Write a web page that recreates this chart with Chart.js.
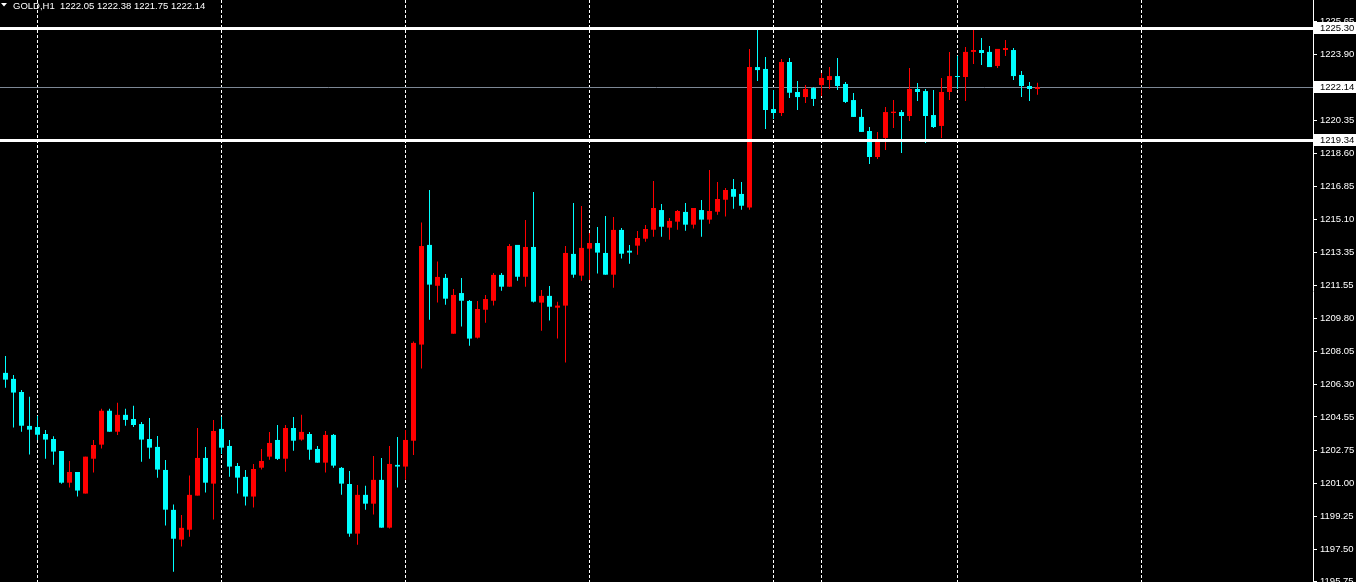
<!DOCTYPE html>
<html lang="en">
<head>
  <meta charset="UTF-8"/>
  <title>GOLD,H1</title>
  <script src="https://cdn.jsdelivr.net/npm/chart.js"></script>
  <style>
    html, body {
      margin: 0;
      padding: 0;
      background: #000;
      overflow: hidden;
    }
    .chart-box {
      position: relative;
      width: 1356px;
      height: 582px;
    }
  </style>
</head>
<body>

<div class="chart-box">
  <canvas id="goldChart"></canvas>
</div>

<script>
  // hourly candles, oldest first (index = bar number)
  const opens = [
    1206.90, 1206.58, 1205.88, 1204.07, 1204.01, 1203.64, 1203.37, 1202.73, 1201.04, 1201.61,
    1200.46, 1202.32, 1203.07, 1204.88, 1203.76, 1204.66, 1204.44, 1204.17, 1203.37, 1202.95,
    1201.72, 1199.59, 1198.00, 1198.53, 1200.35, 1202.36, 1200.99, 1203.91, 1203.00, 1201.93,
    1201.35, 1200.30, 1201.84, 1202.43, 1203.32, 1202.32, 1203.96, 1203.34, 1203.64, 1202.84,
    1202.11, 1203.59, 1201.83, 1200.97, 1198.32, 1200.39, 1199.92, 1201.19, 1198.64, 1201.99,
    1201.90, 1203.28, 1208.41, 1213.73, 1211.55, 1211.97, 1208.99, 1211.16, 1210.74, 1208.78,
    1210.27, 1210.75, 1212.13, 1211.50, 1213.73, 1212.03, 1213.62, 1210.65, 1211.01, 1210.38,
    1210.49, 1213.25, 1212.09, 1213.53, 1213.83, 1213.30, 1212.14, 1214.53, 1213.42, 1213.69,
    1214.06, 1214.54, 1215.59, 1214.65, 1214.97, 1215.49, 1214.81, 1215.59, 1215.08, 1215.50,
    1216.14, 1216.71, 1216.45, 1215.72, 1223.22, 1223.12, 1220.98, 1220.77, 1223.49, 1221.89,
    1221.62, 1222.10, 1222.26, 1222.53, 1222.74, 1222.32, 1221.46, 1220.56, 1219.81, 1218.42,
    1219.44, 1220.77, 1220.82, 1220.61, 1222.05, 1221.94, 1220.66, 1220.08, 1221.89, 1222.74,
    1222.69, 1224.03, 1224.13, 1224.03, 1223.28, 1224.13, 1224.13, 1222.80, 1222.21, 1222.05
  ];
  const highs = [
    1207.80, 1206.79, 1205.99, 1205.62, 1204.60, 1203.85, 1203.52, 1202.73, 1202.20, 1201.61,
    1202.43, 1203.32, 1204.98, 1204.98, 1205.30, 1204.98, 1205.14, 1204.28, 1204.49, 1203.53,
    1202.25, 1199.87, 1199.32, 1201.42, 1203.96, 1202.95, 1204.39, 1204.56, 1203.32, 1202.09,
    1201.72, 1202.04, 1202.84, 1203.75, 1204.12, 1204.12, 1204.55, 1204.66, 1203.75, 1203.00,
    1203.80, 1203.64, 1201.88, 1201.67, 1200.92, 1200.87, 1202.47, 1202.36, 1203.00, 1203.48,
    1203.85, 1208.57, 1214.92, 1216.66, 1212.84, 1212.18, 1211.38, 1211.97, 1210.79, 1210.74,
    1211.06, 1212.23, 1212.23, 1213.78, 1213.73, 1215.06, 1216.55, 1211.33, 1211.54, 1210.70,
    1213.67, 1215.97, 1215.81, 1214.37, 1214.69, 1215.27, 1215.22, 1214.63, 1213.73, 1214.47,
    1214.79, 1217.14, 1215.91, 1215.17, 1215.59, 1215.97, 1215.70, 1216.13, 1217.73, 1217.09,
    1216.77, 1217.25, 1217.09, 1224.19, 1225.24, 1223.76, 1222.00, 1223.65, 1223.71, 1222.48,
    1222.26, 1222.16, 1222.90, 1223.22, 1223.71, 1222.42, 1221.84, 1220.98, 1220.02, 1219.76,
    1221.09, 1221.46, 1220.93, 1223.17, 1222.37, 1222.05, 1222.00, 1222.64, 1224.03, 1223.81,
    1224.29, 1225.25, 1224.77, 1224.35, 1224.19, 1224.67, 1224.24, 1223.01, 1222.42, 1222.38
  ];
  const lows = [
    1206.11, 1203.98, 1203.76, 1202.54, 1203.32, 1202.32, 1202.00, 1200.99, 1200.78, 1200.30,
    1200.46, 1201.58, 1202.86, 1203.76, 1203.59, 1204.08, 1204.01, 1202.16, 1202.32, 1201.31,
    1198.75, 1196.29, 1197.63, 1198.16, 1200.35, 1200.51, 1199.07, 1202.57, 1201.36, 1200.46,
    1199.82, 1199.71, 1201.74, 1202.27, 1202.25, 1201.63, 1202.75, 1203.28, 1202.27, 1202.11,
    1201.58, 1201.84, 1200.40, 1198.16, 1197.73, 1199.60, 1199.34, 1198.64, 1198.59, 1200.78,
    1201.20, 1202.52, 1207.13, 1209.74, 1210.65, 1210.54, 1208.99, 1209.37, 1208.35, 1208.73,
    1209.58, 1210.49, 1211.29, 1211.50, 1211.82, 1211.50, 1210.65, 1209.15, 1209.69, 1208.73,
    1207.45, 1211.98, 1211.82, 1211.86, 1212.20, 1212.14, 1211.45, 1213.00, 1212.73, 1213.21,
    1213.90, 1214.17, 1214.17, 1214.01, 1214.54, 1214.49, 1214.60, 1214.17, 1214.86, 1215.34,
    1215.24, 1215.66, 1215.61, 1215.61, 1222.48, 1219.92, 1220.45, 1220.61, 1221.57, 1220.93,
    1221.30, 1221.14, 1221.68, 1222.05, 1222.00, 1221.30, 1220.56, 1219.76, 1218.05, 1218.32,
    1218.80, 1219.97, 1218.64, 1220.34, 1221.41, 1219.17, 1219.97, 1219.44, 1221.46, 1222.05,
    1221.41, 1223.38, 1223.33, 1223.22, 1223.17, 1223.81, 1222.53, 1221.62, 1221.41, 1221.75
  ];
  const closes = [
    1206.54, 1205.85, 1204.08, 1203.87, 1203.60, 1203.34, 1202.70, 1201.04, 1201.61, 1200.62,
    1202.43, 1203.05, 1204.88, 1203.76, 1204.66, 1204.39, 1204.12, 1203.34, 1202.91, 1201.74,
    1199.60, 1198.05, 1198.63, 1200.39, 1202.36, 1201.04, 1203.80, 1202.91, 1201.90, 1201.31,
    1200.30, 1201.77, 1202.20, 1203.16, 1202.31, 1203.96, 1203.28, 1203.75, 1202.80, 1202.11,
    1203.59, 1201.95, 1200.99, 1198.32, 1200.39, 1199.92, 1201.19, 1198.64, 1202.04, 1201.90,
    1203.32, 1208.50, 1213.67, 1211.61, 1212.02, 1210.86, 1211.06, 1210.75, 1208.73, 1210.31,
    1210.84, 1212.13, 1211.50, 1213.67, 1212.03, 1213.62, 1210.70, 1211.01, 1210.43, 1210.49,
    1213.30, 1212.14, 1213.57, 1213.83, 1213.32, 1212.14, 1214.53, 1213.26, 1213.32, 1214.10,
    1214.58, 1215.70, 1214.70, 1215.01, 1215.54, 1214.81, 1215.70, 1215.08, 1215.54, 1216.18,
    1216.66, 1216.30, 1215.82, 1223.22, 1223.06, 1220.93, 1220.77, 1223.49, 1221.85, 1221.62,
    1222.05, 1221.52, 1222.64, 1222.74, 1222.21, 1221.36, 1220.56, 1219.76, 1218.42, 1219.28,
    1220.82, 1220.84, 1220.61, 1222.05, 1221.89, 1220.61, 1220.02, 1221.89, 1222.74, 1222.69,
    1224.03, 1224.13, 1223.97, 1223.22, 1224.19, 1224.24, 1222.74, 1222.21, 1222.05, 1222.14
  ];

  // price axis labels as printed by the terminal
  const priceTicks = [
    1225.65, 1223.90, 1222.15, 1220.35, 1218.60, 1216.85, 1215.10, 1213.35, 1211.55,
    1209.80, 1208.05, 1206.30, 1204.55, 1202.75, 1201.00, 1199.25, 1197.50, 1195.75
  ];
  const priceMin = 1195.74;
  const priceMax = 1226.80;

  // day separators (bar index), horizontal lines and last bid
  const separators = [4, 27, 50, 73, 96, 102, 119, 142];
  const levels = [1225.30, 1219.34];
  const bid = 1222.14;
  const header = "GOLD,H1  1222.05 1222.38 1221.75 1222.14";

  const BULL = "#ff0000";
  const BEAR = "#00ffff";
  const FONT = "'Liberation Sans', Arial, sans-serif";
  const AXIS_W = 43;
  const BAR_STEP = 8;

  const candleColors = opens.map((o, i) => closes[i] > o ? BULL : BEAR);

  const overlay = {
    id: "overlay",
    beforeDatasetsDraw(chart) {
      const { ctx, chartArea, scales } = chart;
      ctx.save();
      // period separators
      ctx.strokeStyle = "#ffffff";
      ctx.lineWidth = 1;
      ctx.setLineDash([3, 2]);
      separators.forEach(idx => {
        const x = Math.round(scales.x.getPixelForValue(idx) - 0.5) + 0.5;
        ctx.beginPath();
        ctx.moveTo(x, chartArea.top);
        ctx.lineTo(x, chartArea.bottom);
        ctx.stroke();
      });
      ctx.setLineDash([]);
      // bid line
      const yb = Math.round(scales.y.getPixelForValue(bid)) + 0.5;
      ctx.strokeStyle = "#7d8795";
      ctx.beginPath();
      ctx.moveTo(chartArea.left, yb);
      ctx.lineTo(chartArea.right, yb);
      ctx.stroke();
      ctx.restore();
    },
    afterDraw(chart) {
      const { ctx, chartArea, scales } = chart;
      ctx.save();
      // horizontal line objects
      ctx.fillStyle = "#ffffff";
      levels.forEach(v => {
        const y = Math.round(scales.y.getPixelForValue(v));
        ctx.fillRect(0, y - 1, chartArea.right, 3);
      });
      // price boxes on the axis
      ctx.font = "9.5px " + FONT;
      ctx.textBaseline = "middle";
      ctx.textAlign = "left";
      [...levels, bid].forEach(v => {
        const y = Math.round(scales.y.getPixelForValue(v));
        ctx.fillStyle = "#ffffff";
        ctx.fillRect(chartArea.right + 1, y - 6, AXIS_W, 12);
        ctx.fillStyle = "#000000";
        ctx.fillText(v.toFixed(2), chartArea.right + 7, y + 0.5);
      });
      // symbol header
      ctx.fillStyle = "#ffffff";
      ctx.beginPath();
      ctx.moveTo(1, 3);
      ctx.lineTo(7, 3);
      ctx.lineTo(4, 6.5);
      ctx.closePath();
      ctx.fill();
      ctx.font = "9.5px " + FONT;
      ctx.textBaseline = "alphabetic";
      ctx.fillText(header, 13, 8.5);
      ctx.restore();
    }
  };

  const ctx = document.getElementById("goldChart").getContext("2d");
  new Chart(ctx, {
    type: "bar",
    data: {
      datasets: [
        {
          label: "body",
          data: opens.map((o, i) => ({ x: i, y: [o, closes[i]] })),
          backgroundColor: candleColors,
          barThickness: 5,
          minBarLength: 1,
          grouped: false,
          inflateAmount: 0,
          borderWidth: 0,
          order: 1
        },
        {
          label: "wick",
          data: lows.map((l, i) => ({ x: i, y: [l, highs[i]] })),
          backgroundColor: candleColors,
          barThickness: 1,
          minBarLength: 1,
          grouped: false,
          inflateAmount: 0,
          borderWidth: 0,
          order: 2
        }
      ]
    },
    options: {
      responsive: true,
      maintainAspectRatio: false,
      animation: false,
      layout: { padding: 0 },
      plugins: {
        legend: { display: false },
        tooltip: { enabled: false }
      },
      scales: {
        x: {
          type: "linear",
          display: false,
          offset: false,
          min: -5.5 / BAR_STEP,
          max: -5.5 / BAR_STEP + (1356 - AXIS_W) / BAR_STEP
        },
        y: {
          type: "linear",
          position: "right",
          beginAtZero: false,
          min: priceMin,
          max: priceMax,
          afterFit: s => {
            s.width = AXIS_W;
            s.paddingTop = 0;
            s.paddingBottom = 0;
          },
          afterBuildTicks: s => {
            s.ticks = priceTicks.map(v => ({ value: v }));
          },
          grid: {
            drawOnChartArea: false,
            tickLength: 4,
            tickColor: "#ffffff"
          },
          border: { color: "#ffffff", width: 1 },
          ticks: {
            color: "#ffffff",
            padding: 3,
            autoSkip: false,
            font: { family: FONT, size: 9.5 },
            callback: v => Number(v).toFixed(2)
          }
        }
      }
    },
    plugins: [overlay]
  });
</script>

</body>
</html>
